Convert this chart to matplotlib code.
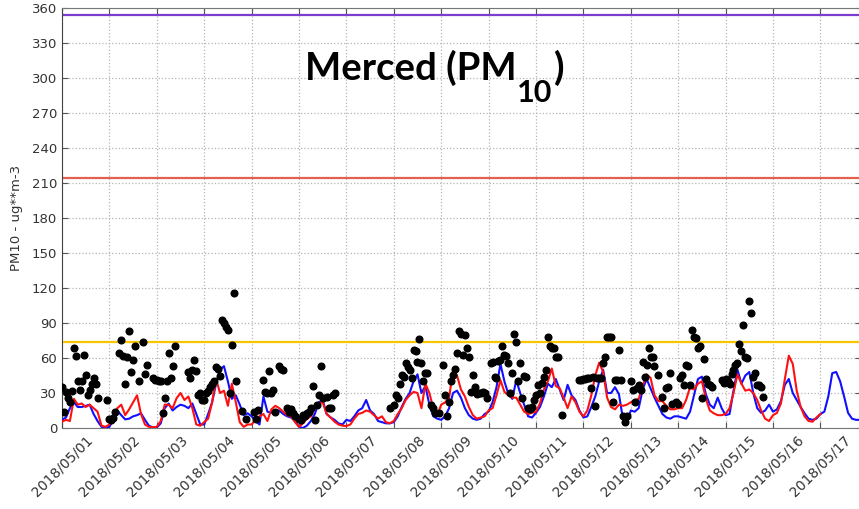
import numpy as np
import pandas as pd
import matplotlib
matplotlib.use("Agg")
import matplotlib.pyplot as plt
import matplotlib.dates as mdates

# observed PM10, hourly from 2018/05/01 00:00 (nan = no data)
nan = np.nan
obs = [
    35.5, 14, 30.7, 25.5, 22.6, 32, 68.5, 62, 40, 33, 40, 63, 45.5, 28, 32.7, 38, 43, 37.5, 25.5, nan, nan, nan, nan, 24,
    8, 7, 9, 14, nan, 64, 75.6, 62, 37.5, 61, 83, 48, 58, 70, nan, 40, nan, 74, 46, 54, nan, nan, 43, 41,
    41, 40, 40, 13, 26, 40, 64, 43, 53, 70, nan, nan, nan, nan, nan, nan, 48, 43, 50, 58, 49, 28, 30, 24,
    24, 30, 32, 35.5, 38, 40, 52, 51, 45, 93, 90, 87, 84, 30, 71, 116, 40, nan, nan, 15, nan, 8, nan, nan,
    nan, 14, 8, 15.5, nan, nan, 41, 31, 30, 49, 30, 33, 14, nan, 53, 51, 50, nan, 17, 14, 16, 12.6, 10, nan,
    8, 7, 11, 10, 12.6, 14, 17, 36, 7, 20, 28, 53, 25.5, nan, 27, 17, 17, 28, 30, nan, nan, nan, nan, nan,
    nan, nan, nan, nan, nan, nan, nan, nan, nan, nan, nan, nan, nan, nan, nan, nan, nan, nan, nan, nan, nan, nan, 17, nan,
    20, 28, 25.5, 38, 45.6, 44, 55.6, 52, 50, 42.7, 67, 65.6, 57, 76.5, 55.6, 40, 47, 47, nan, 20, 17, 12.6, nan, 12.6,
    nan, 54, 28, 10, 22.6, 40, 45.6, 51, 64, 83, 81, 62.7, 80, 68.5, 61, 31, 45.6, 35.5, 29, 30, 30, 30.6, 30, 25.5,
    nan, 56, 57, 44, 42.7, 57.6, 58, 70, 62.7, 62, 56, 30, 47, 81, 73.6, 40, 55.6, 25.5, 45, 44, 17, 16.3, 18.3, 24,
    28, 37, 30, 39, 44, 50, 77.6, 70, 69, 69, 61, 61, nan, 11, nan, nan, nan, nan, nan, nan, nan, nan, 41, 41,
    42, 42, 43, 43, 34, 43.5, 19, 43, 43, 43, 55.6, 61, 78, 78, 78, 22.6, 41, 41, 66.5, 41, 10, 5.4, 10, nan,
    40, 33, 22.6, 34, 37, 33, 57, 44, 54, 69, 60.5, 60.5, 53, nan, 45.6, nan, 27, 17, 34, 35.5, 47, 21, nan, 22.6,
    21, 43, 45.6, 37, 54, 53, 37, 84, 77.6, 77, 68.5, 70, 25.5, 59, 42, 38, 37, 35, nan, nan, nan, nan, 41, 38.4,
    42, 40, 38, 46, 50, 54, 56, 72, 65.6, 88.5, 61, 60, 108.6, 98.6, 44, 47, 37, 37, 35.5, 27, nan, nan, nan, nan,
]

# model forecasts, every 2 hours from 2018/05/01 00:00
model_blue = [
    7, 9, 17, 22, 18, 18, 19, 20, 12, 6, 1, 0,
    1, 7, 15, 11, 7.4, 8, 10, 11, 12.6, 7, 2, 0.5,
    0.5, 4, 17, 21, 15, 18, 20, 19, 17, 21, 12, 3,
    3, 12, 22, 38, 50, 53, 40, 25, 28, 20, 11, 12.6,
    10, 6, 3, 27, 14, 13, 15, 15, 12, 10, 9, 6,
    1, 0, 2, 6, 12, 22, 24, 12, 9, 7, 4, 3,
    7, 6, 10, 15, 17, 24, 15, 12, 6, 5, 4, 4,
    5, 10, 18, 25, 30, 40, 46, 30, 36, 20, 10, 8,
    7, 10, 17, 30, 32, 26, 17, 11, 8, 7, 8, 12,
    14, 22, 35, 55, 40, 29, 25, 41, 30, 20, 10, 9,
    13, 18, 27, 38, 35, 42, 33, 24, 37, 28, 24, 15,
    9, 10, 18, 27, 40, 50, 30, 30, 35, 29, 8, 5,
    15, 14, 17, 33, 42, 34, 26, 19, 12, 9, 8, 10,
    10, 9, 8, 14, 28, 42, 44, 29, 20, 17, 26, 17,
    11, 12, 32, 50, 38, 45, 48, 30, 17, 13, 15, 20,
    14, 16, 23, 37, 42, 30, 24, 18, 12.6, 8, 7, 8,
    12, 14, 27, 47, 48, 40, 27, 13, 8, 7, 7,
]
model_red = [
    5.4, 7, 6, 25, 20, 21, 18, 20, 17, 14, 2, 1,
    3, 10, 17, 20, 11, 16, 22, 28, 12, 3, 1, 0.6,
    1, 6, 20, 20, 17, 25.5, 30, 24, 27, 17, 3, 2,
    5, 8, 22, 42, 30, 32, 19, 38, 22, 5, 1, 3,
    3, 7, 10, 12, 6, 16, 19, 17, 14, 11, 10, 5,
    1, 4, 8, 10, 17, 21, 22, 12, 9, 5.4, 3, 2,
    1.7, 3, 8, 12, 13, 15, 14, 11, 8, 10, 5, 4,
    6, 12, 17, 24, 28, 31, 30, 17, 38, 30, 17, 11,
    20, 22, 26, 50, 45, 33, 27, 18, 11, 8, 9, 10,
    15, 17, 28, 41, 31, 28, 26, 26, 20, 14, 12, 13,
    14, 21, 33, 40, 51, 36, 34, 26, 17, 27, 22, 14,
    10, 15, 28, 45, 56, 48, 26, 18, 16, 20, 19, 20,
    22, 24, 25, 36, 46, 43, 28, 23, 23, 19, 16, 16,
    17, 17, 24, 35, 33, 38, 40, 25, 15, 12.6, 11, 11,
    12, 17, 30, 46, 38, 32, 33, 30, 24, 15, 8, 6,
    11, 13, 21, 42, 62, 55, 32, 18, 10, 6, 5.4, 9,
    12,
]

# threshold lines
levels = [354, 214, 74]
level_colors = ["#7d3ccf", "#e2604c", "#f7c600"]

obs_t = pd.date_range("2018-05-01 00:00", periods=len(obs), freq="h")
blue_t = pd.date_range("2018-05-01 00:00", periods=len(model_blue), freq="2h")
red_t = pd.date_range("2018-05-01 00:00", periods=len(model_red), freq="2h")

plt.rcParams["font.family"] = "DejaVu Sans"

W, H = 859, 509
fig = plt.figure(figsize=(W / 100, H / 100), dpi=100)
ax = fig.add_axes([62 / W, 81 / H, 0.93, 420 / H])

for lv, c in zip(levels, level_colors):
    ax.axhline(lv, color=c, lw=1.6, zorder=2)

ax.plot(blue_t, model_blue, color="#1010ff", lw=1.5, zorder=3)
ax.plot(red_t, model_red, color="#ff1010", lw=1.5, zorder=3)
ax.plot(obs_t, obs, "o", color="black", ms=4.8, zorder=4)

ax.set_ylim(0, 360)
ax.set_yticks(np.arange(0, 361, 30))
start = pd.Timestamp("2018-05-01 00:00")
ax.set_xlim(start, start + pd.Timedelta(days=0.93 * W / 47.4))
ax.xaxis.set_major_locator(mdates.DayLocator())
ax.xaxis.set_major_formatter(mdates.DateFormatter("%Y/%m/%d"))
plt.setp(ax.get_xticklabels(), rotation=45, ha="center")

ax.grid(True, ls=":", color="#b5b5b5", lw=0.9)
ax.tick_params(direction="in", top=True, right=True, length=4, colors="#555555",
               labelcolor="#333333", labelsize=9.5)
ax.tick_params(axis="x", labelsize=10)
for s in ax.spines.values():
    s.set_color("#777777")
ax.spines["left"].set_color("#444444")

ax.set_ylabel("PM10 - ug**m-3", fontsize=9.5, color="#333333", labelpad=6)

# title pasted over the chart: "Merced (PM" + subscript "10" + ")"
title_parts = [("Merced (PM", 27.5, 0), ("10", 22, -22), (")", 27.5, 0)]
baseline = 80  # px from top
renderer = fig.canvas.get_renderer()
texts = []
for s, size, dy in title_parts:
    t = fig.text(0, 0, s, fontsize=size, fontweight="bold", family="Lato",
                 ha="left", va="baseline")
    texts.append((t, dy))
widths = [t.get_window_extent(renderer).width for t, _ in texts]
x = 434.5 - (sum(widths) + 2) / 2
for (t, dy), w in zip(texts, widths):
    t.set_position((x / W, 1 - (baseline - dy) / H))
    x += w + 1

fig.savefig("out.png", dpi=100)
